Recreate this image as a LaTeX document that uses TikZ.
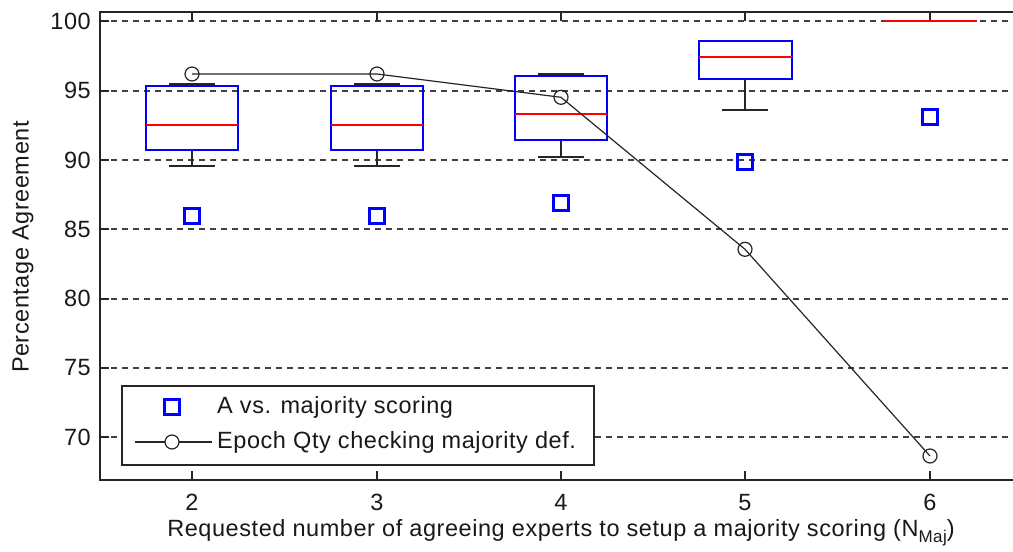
\documentclass[tikz,border=0pt]{standalone}
\usepackage{fontspec}
\setmainfont{Liberation Sans}[LetterSpace=2.4]
\begin{document}
\begin{tikzpicture}[x=1pt,y=-1pt,
  font=\fontsize{23.5}{28}\selectfont,
  axisline/.style={line width=2pt,black!85},
  gridline/.style={line width=2pt,black!75,dash pattern=on 6pt off 5pt},
  boxline/.style={line width=2pt,blue},
  medline/.style={line width=2pt,red},
  whisk/.style={line width=2pt,black!85},
  sqmark/.style={draw=blue,line width=3pt,minimum size=14.5pt,inner sep=0pt,rectangle},
  circmark/.style={draw=black!85,line width=1.2pt,circle,minimum size=14pt,inner sep=0pt},
  epochline/.style={line width=1.2pt,black!85},
  ticklab/.style={inner sep=0pt,text=black!90}]
\useasboundingbox (0,0) rectangle (1013,552);
\clip (0,0) rectangle (1013,552);
\fill[white] (0,0) rectangle (1013,552);

% horizontal dashed grid, 100 down to 70
\foreach \yy in {21,91,160,229,299,368,437}{
  \draw[gridline] (100,\yy) -- (1030,\yy);
}

% axes frame and ticks
\draw[axisline] (100,12) rectangle (1030,480);
\foreach \xx in {192,377,561,745,930}{
  \draw[axisline] (\xx,480) -- (\xx,471);
  \draw[axisline] (\xx,12) -- (\xx,21);
}
\foreach \yy in {21,91,160,229,299,368,437}{
  \draw[axisline] (100,\yy) -- (109,\yy);
}

% tick labels
\foreach \v/\yy in {100/21.3,95/90.7,90/160,85/229.3,80/298.7,75/368,70/437.3}{
  \node[ticklab,anchor=east] (yl\v) at (91,\yy) {\v};
}
\foreach \n/\xx in {2/192,3/377,4/561,5/745,6/930}{
  \node[ticklab,anchor=base] (xl\n) at (\xx,510) {\n};
}

% axis titles
\node[ticklab,rotate=90] (ylabel) at (23,247) {Percentage Agreement};
\node[ticklab,anchor=base] (xlabel) at (561,536.5) {Requested number of agreeing experts to setup a majority scoring (N\raisebox{-6pt}{\fontsize{17}{17}\selectfont Maj})};

% box plots: whiskers, boxes, medians
% N = 2
\draw[whisk] (192,150) -- (192,166) (169,166) -- (215,166);
\draw[whisk] (192,86) -- (192,84) (169,84) -- (215,84);
\draw[boxline] (146,86) rectangle (238,150);
\draw[medline] (146,125) -- (238,125);
% N = 3
\draw[whisk] (377,150) -- (377,166) (354,166) -- (400,166);
\draw[whisk] (377,86) -- (377,84) (354,84) -- (400,84);
\draw[boxline] (331,86) rectangle (423,150);
\draw[medline] (331,125) -- (423,125);
% N = 4
\draw[whisk] (561,140) -- (561,157) (538,157) -- (584,157);
\draw[whisk] (561,76) -- (561,74) (538,74) -- (584,74);
\draw[boxline] (515,76) rectangle (607,140);
\draw[medline] (515,114) -- (607,114);
% N = 5
\draw[whisk] (745,79) -- (745,110) (722,110) -- (768,110);
\draw[boxline] (699,41) rectangle (792,79);
\draw[medline] (699,57) -- (792,57);
% N = 6
\draw[medline] (883,21) -- (977,21);

% A vs. majority scoring
\foreach \n/\xx/\yy in {2/192/216,3/377/216,4/561/203,5/745/162,6/930/117}{
  \node[sqmark] (sq\n) at (\xx,\yy) {};
}

% Epoch Qty checking majority def.
\foreach \n/\xx/\yy in {2/192/74,3/377/74,4/561/97.3,5/745/249.3,6/930/456}{
  \node[circmark] (c\n) at (\xx,\yy) {};
}
\draw[epochline] (c2.center) -- (c3.center) -- (c4.center) -- (c5.center) -- (c6.center);

% legend
\node[draw=black!85,line width=2pt,fill=white,minimum width=472pt,minimum height=79pt,inner sep=0pt,anchor=north west] (legend) at (121,385) {};
\node[sqmark] (legsq) at (172,407) {};
\coordinate (legl) at (135,442);
\coordinate (legr) at (212,442);
\draw[epochline] (legl) -- (legr);
\node[circmark,fill=white] (legc) at (172,442) {};
\node[ticklab,anchor=west] (legt1) at (217,407) {A vs. majority scoring};
\node[ticklab,anchor=west] (legt2) at (217,442) {Epoch Qty checking majority def.};
\end{tikzpicture}
\end{document}
